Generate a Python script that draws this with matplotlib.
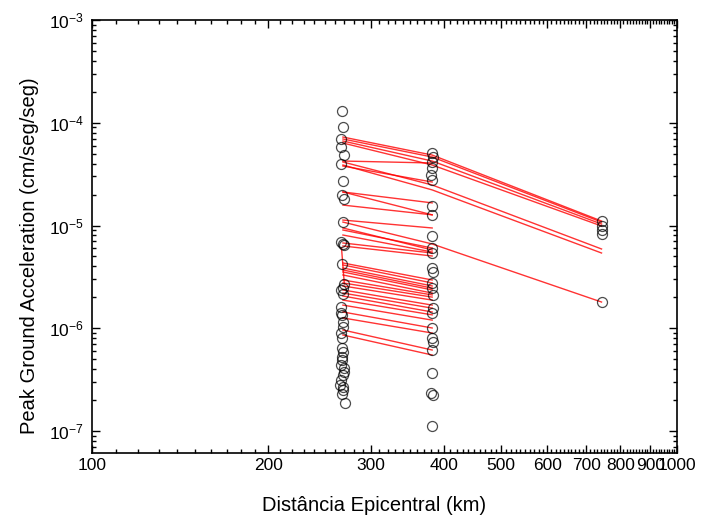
import numpy as np
import matplotlib
matplotlib.use("Agg")
import matplotlib.pyplot as plt
from matplotlib.ticker import FixedLocator, LogLocator, LogFormatterSciNotation, FixedFormatter, NullFormatter

plt.rcParams['font.family'] = ['Liberation Sans', 'DejaVu Sans']
plt.rcParams['mathtext.fontset'] = 'custom'
plt.rcParams['mathtext.rm'] = 'Liberation Sans'
plt.rcParams['mathtext.it'] = 'Liberation Sans'

# Observed peak ground acceleration at each station
near_dist = [267.2, 268.3, 266.1, 266.1, 270.0, 266.4, 268.9, 267.5, 269.6, 268.3,
             266.1, 269.6, 268.3, 267.2, 270.0, 268.9, 266.1, 268.3, 266.1, 266.1,
             267.5, 268.9, 268.3, 266.1, 267.2, 267.2, 267.2, 266.1, 269.6, 268.3,
             265.4, 268.3, 267.2, 270.7, 268.9, 267.5, 269.6, 266.4, 268.9]
near_pga = [1.30e-4, 9.1e-5, 6.95e-5, 5.8e-5, 4.85e-5, 3.97e-5, 2.71e-5, 1.98e-5, 1.81e-5, 1.08e-5,
            6.91e-6, 6.46e-6, 6.61e-6, 4.22e-6, 2.70e-6, 2.46e-6, 2.36e-6, 2.15e-6, 1.61e-6, 1.41e-6,
            1.35e-6, 1.15e-6, 1.03e-6, 9.0e-7, 8.0e-7, 6.42e-7, 5.25e-7, 4.39e-7, 4.10e-7, 3.51e-7,
            2.80e-7, 2.68e-7, 2.29e-7, 1.87e-7, 5.87e-7, 4.91e-7, 3.75e-7, 3.14e-7, 2.51e-7]

mid_dist = [381, 382, 381, 381, 380, 381, 381, 381, 381, 381,
            381, 381, 383, 381, 381, 382, 382, 381, 381, 381,
            382, 381, 381, 380, 382, 381]
mid_pga = [5.08e-5, 4.64e-5, 4.15e-5, 3.63e-5, 3.10e-5, 2.77e-5, 1.55e-5, 1.27e-5, 7.90e-6, 6.04e-6,
           5.40e-6, 3.86e-6, 3.53e-6, 2.76e-6, 2.46e-6, 2.11e-6, 1.57e-6, 1.41e-6, 1.006e-6, 8.04e-7,
           7.35e-7, 6.14e-7, 3.67e-7, 2.34e-7, 2.24e-7, 1.12e-7]

far_dist = [743, 743, 743, 743, 743]
far_pga = [1.106e-5, 9.89e-6, 9.04e-6, 8.27e-6, 1.80e-6]

# Attenuation lines per event, evaluated at the three station distances
line_dist = [268.5, 381.5, 743.0]
fit_near = [7.26e-5, 6.95e-5, 6.64e-5, 6.35e-5, 4.15e-5, 3.88e-5, 1.08e-5,
            4.24e-5, 3.79e-5, 2.12e-5, 2.12e-5, 1.58e-5, 1.13e-5, 9.46e-6, 9.04e-6,
            8.08e-6, 6.76e-6, 6.32e-6, 4.32e-6, 4.13e-6, 3.86e-6, 3.69e-6, 3.53e-6,
            3.30e-6, 2.95e-6, 2.76e-6, 2.58e-6, 2.36e-6, 2.20e-6, 2.06e-6, 1.88e-6,
            1.68e-6, 1.44e-6, 1.26e-6, 9.62e-7, 8.60e-7]
fit_mid = [4.85e-5, 4.64e-5, 4.24e-5, 3.88e-5, 2.48e-5, 2.22e-5, 6.61e-6,
           4.06e-5, 2.65e-5, 1.66e-5, 1.27e-5, 1.27e-5, 9.46e-6, 5.78e-6, 6.04e-6,
           5.52e-6, 5.40e-6, 5.05e-6, 2.95e-6, 2.76e-6, 2.58e-6, 2.46e-6, 2.36e-6,
           2.20e-6, 2.11e-6, 2.01e-6, 1.88e-6, 1.68e-6, 1.57e-6, 1.44e-6, 1.35e-6,
           1.20e-6, 1.006e-6, 8.99e-7, 6.14e-7, 5.49e-7]
fit_far = [1.106e-5, 1.08e-5, 1.034e-5, 9.89e-6, 5.91e-6, 5.40e-6, 1.80e-6] + [np.nan] * 29

# Link between two nearby stations of the same event
link_dist = [267.0, 270.0]
link_pga = [6.04e-6, 2.70e-6]

fig = plt.figure(figsize=(7.08, 5.20), dpi=100)
ax = fig.add_axes([92 / 708, 67 / 520, 585 / 708, 433 / 520])

red = (1.0, 0.0, 0.0, 0.8)
for a, b, c in zip(fit_near, fit_mid, fit_far):
    ys = [a, b, c]
    xs = [d for d, y in zip(line_dist, ys) if not np.isnan(y)]
    ys = [y for y in ys if not np.isnan(y)]
    ax.plot(xs, ys, color=red, lw=1.0, zorder=2)
ax.plot(link_dist, link_pga, color=red, lw=1.0, zorder=2)

circ = dict(marker='o', ls='none', ms=7.2, mfc='none', mec=(0, 0, 0, 0.7), mew=0.9, zorder=3)
ax.plot(near_dist, near_pga, **circ)
ax.plot(mid_dist, mid_pga, **circ)
ax.plot(far_dist, far_pga, **circ)

ax.set_xscale('log')
ax.set_yscale('log')
ax.set_xlim(100, 1000)
ax.set_ylim(10 ** -7.214, 1e-3)

xmaj = list(range(100, 1001, 100))
xmin = [v for v in range(110, 1000, 10) if v % 100 != 0]
ax.xaxis.set_major_locator(FixedLocator(xmaj))
ax.xaxis.set_major_formatter(FixedFormatter([str(v) for v in xmaj]))
ax.xaxis.set_minor_locator(FixedLocator(xmin))
ax.xaxis.set_minor_formatter(NullFormatter())

ax.yaxis.set_major_locator(LogLocator(base=10, numticks=20))
ax.yaxis.set_major_formatter(LogFormatterSciNotation())
ax.yaxis.set_minor_locator(LogLocator(base=10, subs=np.arange(2, 10), numticks=20))
ax.yaxis.set_minor_formatter(NullFormatter())

ax.tick_params(which='both', direction='in', top=True, right=True, width=1.0)
ax.tick_params(which='major', length=5.5, labelsize=12.5)
ax.tick_params(axis='x', which='major', pad=3.5)
ax.tick_params(axis='y', which='major', pad=6)
ax.tick_params(which='minor', length=3)
for s in ax.spines.values():
    s.set_linewidth(1.2)

ax.set_xlabel('Distância Epicentral (km)', fontsize=14.5)
ax.set_ylabel('Peak Ground Acceleration (cm/seg/seg)', fontsize=14.5)
ax.xaxis.set_label_coords(0.482, -0.100)
ax.yaxis.set_label_coords(-0.090, 0.455)

fig.savefig('out.png', dpi=100)
